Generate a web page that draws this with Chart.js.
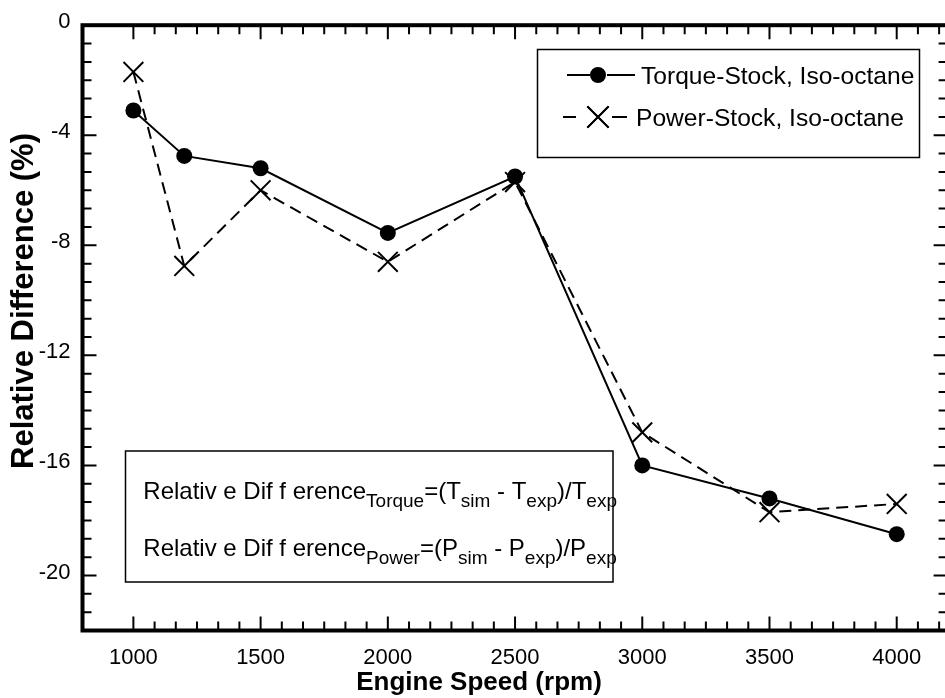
<!DOCTYPE html>
<html>
<head>
<meta charset="utf-8">
<script src="https://cdn.jsdelivr.net/npm/chart.js@4.4.0/dist/chart.umd.min.js"></script>
<style>
  html, body { margin: 0; padding: 0; background: #fff; overflow: hidden; }
  #c { display: block; width: 950px; height: 698px; }
</style>
</head>
<body>
<canvas id="c" width="950" height="698"></canvas>
<script>
// Engine speed sweep and relative differences (%) between simulation and experiment
const speeds = [1000, 1200, 1500, 2000, 2500, 3000, 3500, 4000];
const torqueDiff = [-3.1, -4.75, -5.2, -7.55, -5.5, -16.0, -17.2, -18.5];
const powerDiff = [-1.7, -8.75, -6.0, -8.6, -5.7, -14.8, -17.7, -17.4];
const seriesLabels = ['Torque-Stock, Iso-octane', 'Power-Stock, Iso-octane'];

// Axis ticks
const xTickLabels = [1000, 1500, 2000, 2500, 3000, 3500, 4000];
const yTickLabels = [0, -4, -8, -12, -16, -20];
const xTitle = 'Engine Speed (rpm)';
const yTitle = 'Relative Difference (%)';

// Definition note shown in the lower-left box: [text, isSubscript]
const noteLines = [
  [['Relativ e Dif f erence', false], ['Torque', true], ['=(T', false], ['sim', true], [' - T', false], ['exp', true], [')/T', false], ['exp', true]],
  [['Relativ e Dif f erence', false], ['Power', true], ['=(P', false], ['sim', true], [' - P', false], ['exp', true], [')/P', false], ['exp', true]]
];

const FONT = "'Liberation Sans', Arial, Helvetica, sans-serif";

// Minor tick positions: six subdivisions per major interval
const xMinor = [];
for (let k = 0; k <= 38; k++) xMinor.push(1000 + k * 500 / 6);
const yMinor = [];
for (let k = 0; k <= 33; k++) yMinor.push(-k * 4 / 6);

const isMajor = (v, base, step) => {
  const r = (v - base) / step;
  return Math.abs(r - Math.round(r)) < 1e-6;
};

// Box frame with inward ticks on all four sides
const framePlugin = {
  id: 'frame',
  afterDatasetsDraw(chart) {
    const { ctx, chartArea: a, scales: { x, y } } = chart;
    ctx.save();
    ctx.strokeStyle = '#000';
    ctx.lineWidth = 2;
    ctx.beginPath();
    xMinor.forEach(v => {
      const px = x.getPixelForValue(v);
      const len = isMajor(v, 1000, 500) ? 14 : 9;
      ctx.moveTo(px, a.bottom); ctx.lineTo(px, a.bottom - len);
      ctx.moveTo(px, a.top); ctx.lineTo(px, a.top + len);
    });
    yMinor.forEach(v => {
      const py = y.getPixelForValue(v);
      const len = isMajor(v, 0, 4) ? 14 : 9;
      ctx.moveTo(a.left, py); ctx.lineTo(a.left + len, py);
      ctx.moveTo(a.right, py); ctx.lineTo(a.right - len, py);
    });
    ctx.stroke();
    ctx.lineWidth = 4;
    ctx.strokeRect(a.left, a.top, a.right - a.left, a.bottom - a.top);
    ctx.restore();
  }
};

// Axis titles
const titlePlugin = {
  id: 'axisTitles',
  afterDraw(chart) {
    const ctx = chart.ctx;
    ctx.save();
    ctx.fillStyle = '#000';
    ctx.textAlign = 'center';
    ctx.textBaseline = 'alphabetic';
    ctx.font = 'bold 26px ' + FONT;
    ctx.fillText(xTitle, 479, 690);
    ctx.translate(33, 301);
    ctx.rotate(-Math.PI / 2);
    ctx.font = 'bold 31px ' + FONT;
    ctx.fillText(yTitle, 0, 0);
    ctx.restore();
  }
};

// Boxed legend in the upper right
const legendPlugin = {
  id: 'boxLegend',
  afterDraw(chart) {
    const ctx = chart.ctx;
    const ds = chart.data.datasets;
    ctx.save();
    ctx.strokeStyle = '#000';
    ctx.lineWidth = 1.5;
    ctx.strokeRect(537.5, 49.5, 382, 108);
    const rows = [
      { y: 75, seg: [[567, 590], [607, 635]], mx: 598, tx: 641, base: 83.5 },
      { y: 117, seg: [[563, 576], [612, 627]], mx: 598, tx: 636, base: 125.5 }
    ];
    rows.forEach((r, i) => {
      const d = ds[i];
      ctx.lineWidth = 2;
      ctx.setLineDash([]);
      ctx.beginPath();
      r.seg.forEach(s => { ctx.moveTo(s[0], r.y); ctx.lineTo(s[1], r.y); });
      ctx.stroke();
      ctx.fillStyle = '#000';
      Chart.helpers.drawPoint(ctx, {
        pointStyle: d.pointStyle,
        radius: i === 0 ? 7 : 15,
        borderWidth: 2
      }, r.mx, r.y);
      if (i === 0) ctx.fill(); else ctx.stroke();
      ctx.font = '24.6px ' + FONT;
      ctx.textAlign = 'left';
      ctx.textBaseline = 'alphabetic';
      ctx.fillText(d.label, r.tx, r.base);
    });
    ctx.restore();
  }
};

// Definition note with subscripts
const notePlugin = {
  id: 'note',
  afterDraw(chart) {
    const ctx = chart.ctx;
    ctx.save();
    ctx.strokeStyle = '#000';
    ctx.lineWidth = 1.5;
    ctx.strokeRect(125.5, 451, 487.5, 131);
    ctx.fillStyle = '#000';
    ctx.textAlign = 'left';
    ctx.textBaseline = 'alphabetic';
    const baselines = [498.5, 556];
    noteLines.forEach((parts, i) => {
      let x = 143.3;
      parts.forEach(([t, sub]) => {
        ctx.font = (sub ? '19px ' : '24px ') + FONT;
        ctx.fillText(t, x, baselines[i] + (sub ? 8 : 0));
        x += ctx.measureText(t).width;
      });
    });
    ctx.restore();
  }
};

const tickFont = { family: FONT, size: 22 };

new Chart(document.getElementById('c'), {
  type: 'line',
  data: {
    datasets: [
      {
        label: seriesLabels[0],
        data: speeds.map((s, i) => ({ x: s, y: torqueDiff[i] })),
        borderColor: '#000',
        backgroundColor: '#000',
        borderWidth: 2,
        pointStyle: 'circle',
        pointRadius: 8,
        pointBackgroundColor: '#000',
        pointBorderColor: '#000',
        pointBorderWidth: 0,
        tension: 0
      },
      {
        label: seriesLabels[1],
        data: speeds.map((s, i) => ({ x: s, y: powerDiff[i] })),
        borderColor: '#000',
        backgroundColor: 'rgba(0,0,0,0)',
        borderWidth: 2,
        borderDash: [12, 7],
        pointStyle: 'crossRot',
        pointRadius: 14,
        pointBorderColor: '#000',
        pointBorderWidth: 2,
        tension: 0
      }
    ]
  },
  options: {
    responsive: false,
    maintainAspectRatio: false,
    animation: false,
    devicePixelRatio: 1,
    events: [],
    layout: { autoPadding: false, padding: { top: 22.5, right: 2.4, left: 0, bottom: 0 } },
    plugins: { legend: { display: false }, tooltip: { enabled: false } },
    scales: {
      x: {
        type: 'linear',
        min: 800,
        max: 4200,
        afterFit(s) { s.height = 67.5; },
        afterBuildTicks(s) { s.ticks = xTickLabels.map(v => ({ value: v })); },
        grid: { display: false, drawTicks: false },
        border: { display: false },
        ticks: {
          font: tickFont, color: '#000', padding: 14,
          autoSkip: false, maxRotation: 0, minRotation: 0,
          callback: v => String(v)
        }
      },
      y: {
        type: 'linear',
        min: -22,
        max: 0,
        afterFit(s) { s.width = 82.5; },
        afterBuildTicks(s) { s.ticks = yTickLabels.map(v => ({ value: v })); },
        grid: { display: false, drawTicks: false },
        border: { display: false },
        ticks: {
          font: tickFont, color: '#000', padding: 12, labelOffset: -3,
          autoSkip: false,
          callback: v => String(v)
        }
      }
    }
  },
  plugins: [framePlugin, titlePlugin, legendPlugin, notePlugin]
});
</script>
</body>
</html>
